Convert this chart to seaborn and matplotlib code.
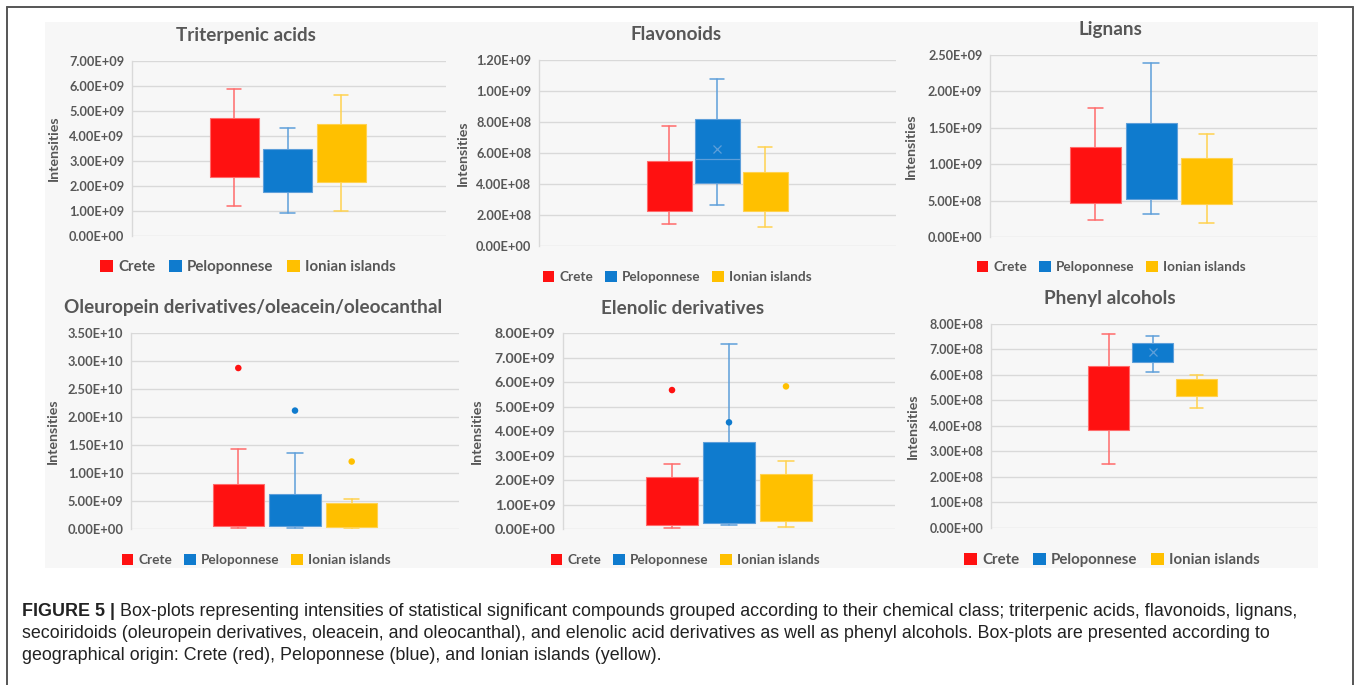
import numpy as np
import pandas as pd
import seaborn as sns
import matplotlib
matplotlib.use("Agg")
import matplotlib.pyplot as plt
from matplotlib.patches import Patch, Rectangle
from matplotlib.lines import Line2D

# ---------------------------------------------------------------- data
regions = ["Crete", "Peloponnese", "Ionian islands"]
fill_colors = ["#FF1111", "#0F7BCE", "#FFC000"]
whisker_colors = ["#FF6B6B", "#5E9FDA", "#FFD24F"]

# Triterpenic acids
triterpenic_low = [1.20e9, 0.93e9, 1.01e9]
triterpenic_q1 = [2.36e9, 1.74e9, 2.15e9]
triterpenic_med = [np.nan, np.nan, np.nan]
triterpenic_q3 = [4.71e9, 3.46e9, 4.47e9]
triterpenic_high = [5.85e9, 4.31e9, 5.63e9]
triterpenic_mean = [np.nan, np.nan, np.nan]
triterpenic_out = [[], [], []]
triterpenic_ticks = [0, 1e9, 2e9, 3e9, 4e9, 5e9, 6e9, 7e9]

# Flavonoids
flavonoid_low = [1.40e8, 2.66e8, 1.25e8]
flavonoid_q1 = [2.26e8, 4.08e8, 2.26e8]
flavonoid_med = [np.nan, 5.61e8, np.nan]
flavonoid_q3 = [5.48e8, 8.19e8, 4.80e8]
flavonoid_high = [7.74e8, 1.075e9, 6.37e8]
flavonoid_mean = [np.nan, 6.28e8, np.nan]
flavonoid_out = [[], [], []]
flavonoid_ticks = [0, 2e8, 4e8, 6e8, 8e8, 1.0e9, 1.2e9]

# Lignans
lignan_low = [2.40e8, 3.15e8, 1.90e8]
lignan_q1 = [4.70e8, 5.20e8, 4.57e8]
lignan_med = [np.nan, np.nan, np.nan]
lignan_q3 = [1.235e9, 1.572e9, 1.092e9]
lignan_high = [1.78e9, 2.395e9, 1.417e9]
lignan_mean = [np.nan, np.nan, np.nan]
lignan_out = [[], [], []]
lignan_ticks = [0, 5e8, 1.0e9, 1.5e9, 2.0e9, 2.5e9]

# Oleuropein derivatives / oleacein / oleocanthal
oleuropein_low = [0.30e9, 0.18e9, 0.10e9]
oleuropein_q1 = [0.59e9, 0.59e9, 0.46e9]
oleuropein_med = [np.nan, np.nan, np.nan]
oleuropein_q3 = [8.03e9, 6.30e9, 4.75e9]
oleuropein_high = [1.44e10, 1.355e10, 5.36e9]
oleuropein_mean = [np.nan, np.nan, np.nan]
oleuropein_out = [[2.88e10], [2.12e10], [1.21e10]]
oleuropein_ticks = [0, 5e9, 1.0e10, 1.5e10, 2.0e10, 2.5e10, 3.0e10, 3.5e10]

# Elenolic derivatives
elenolic_low = [0.05e9, 0.15e9, 0.07e9]
elenolic_q1 = [0.16e9, 0.245e9, 0.34e9]
elenolic_med = [np.nan, np.nan, np.nan]
elenolic_q3 = [2.13e9, 3.57e9, 2.26e9]
elenolic_high = [2.66e9, 7.56e9, 2.79e9]
elenolic_mean = [np.nan, np.nan, np.nan]
elenolic_out = [[5.68e9], [4.36e9], [5.83e9]]
elenolic_ticks = [0, 1e9, 2e9, 3e9, 4e9, 5e9, 6e9, 7e9, 8e9]

# Phenyl alcohols
phenyl_low = [2.50e8, 6.10e8, 4.71e8]
phenyl_q1 = [3.84e8, 6.52e8, 5.17e8]
phenyl_med = [np.nan, np.nan, np.nan]
phenyl_q3 = [6.36e8, 7.25e8, 5.83e8]
phenyl_high = [7.60e8, 7.54e8, 6.01e8]
phenyl_mean = [np.nan, 6.91e8, np.nan]
phenyl_out = [[], [], []]
phenyl_ticks = [0, 1e8, 2e8, 3e8, 4e8, 5e8, 6e8, 7e8, 8e8]

caption_head = "FIGURE 5 |"
caption_lines = [
    " Box-plots representing intensities of statistical significant compounds grouped according to their chemical class; triterpenic acids, flavonoids, lignans,",
    "secoiridoids (oleuropein derivatives, oleacein, and oleocanthal), and elenolic acid derivatives as well as phenyl alcohols. Box-plots are presented according to",
    "geographical origin: Crete (red), Peloponnese (blue), and Ionian islands (yellow).",
]

panels = [
    dict(title="Triterpenic acids", low=triterpenic_low, q1=triterpenic_q1, med=triterpenic_med,
         q3=triterpenic_q3, high=triterpenic_high, mean=triterpenic_mean, out=triterpenic_out,
         ticks=triterpenic_ticks),
    dict(title="Flavonoids", low=flavonoid_low, q1=flavonoid_q1, med=flavonoid_med,
         q3=flavonoid_q3, high=flavonoid_high, mean=flavonoid_mean, out=flavonoid_out,
         ticks=flavonoid_ticks),
    dict(title="Lignans", low=lignan_low, q1=lignan_q1, med=lignan_med,
         q3=lignan_q3, high=lignan_high, mean=lignan_mean, out=lignan_out,
         ticks=lignan_ticks),
    dict(title="Oleuropein derivatives/oleacein/oleocanthal", low=oleuropein_low, q1=oleuropein_q1,
         med=oleuropein_med, q3=oleuropein_q3, high=oleuropein_high, mean=oleuropein_mean,
         out=oleuropein_out, ticks=oleuropein_ticks),
    dict(title="Elenolic derivatives", low=elenolic_low, q1=elenolic_q1, med=elenolic_med,
         q3=elenolic_q3, high=elenolic_high, mean=elenolic_mean, out=elenolic_out,
         ticks=elenolic_ticks),
    dict(title="Phenyl alcohols", low=phenyl_low, q1=phenyl_q1, med=phenyl_med,
         q3=phenyl_q3, high=phenyl_high, mean=phenyl_mean, out=phenyl_out,
         ticks=phenyl_ticks),
]

# ---------------------------------------------------------------- layout (pixels)
W, H, DPI = 1357, 685, 100
# plot area left/right/top/bottom, centre of middle box, box spacing, box width,
# title (x, y), y-label x, legend (x, y), legend font size, tick font size
layout = [
    dict(l=132, r=446, t=60.7, b=236, c=287.5, s=53.5, bw=49, title=(246, 35), ylab=54,
         leg=(248, 267), legfs=10.8, tickfs=9.2),
    dict(l=539, r=896, t=60, b=246, c=717, s=48, bw=45, title=(676, 35), ylab=463,
         leg=(677, 277), legfs=9.8, tickfs=9.2),
    dict(l=990, r=1317, t=55, b=237.3, c=1151, s=55.7, bw=51, title=(1110, 30), ylab=911,
         leg=(1111, 267), legfs=9.8, tickfs=9.1),
    dict(l=131, r=459, t=333.3, b=529.3, c=295, s=56.7, bw=51.5, title=(253, 308), ylab=53,
         leg=(256, 560), legfs=9.8, tickfs=9.3),
    dict(l=563, r=895, t=333.3, b=529, c=729, s=57, bw=52.5, title=(683, 308), ylab=477,
         leg=(685, 560), legfs=9.8, tickfs=10.2),
    dict(l=991, r=1317, t=324, b=527.7, c=1152.5, s=44, bw=40.5, title=(1110, 298), ylab=913,
         leg=(1112, 560), legfs=10.8, tickfs=9.0),
]

TEXT_GRAY = "#575757"
GRID = "#D9D9D9"
PANEL_BG = "#F7F7F7"

sns.set_theme(style="white")
plt.rcParams["font.family"] = ["Lato", "DejaVu Sans"]
plt.rcParams["font.weight"] = "bold"

fig = plt.figure(figsize=(W / DPI, H / DPI), dpi=DPI, facecolor="white")


def fx(x):
    return x / W


def fy(y):
    return 1 - y / H


# shaded chart region and outer frame
fig.add_artist(Rectangle((fx(45), fy(568)), fx(1318) - fx(45), fy(22) - fy(568),
                         transform=fig.transFigure, facecolor=PANEL_BG, edgecolor="none", zorder=0))
frame_kw = dict(transform=fig.transFigure, color="#555555", lw=1.4, zorder=5)
fig.add_artist(Line2D([fx(7), fx(7)], [fy(7), fy(690)], **frame_kw))
fig.add_artist(Line2D([fx(7), fx(1353)], [fy(7), fy(7)], **frame_kw))
fig.add_artist(Line2D([fx(1353), fx(1353)], [fy(7), fy(690)], **frame_kw))

for p, lay in zip(panels, layout):
    ax = fig.add_axes([fx(lay["l"]), fy(lay["b"]), fx(lay["r"]) - fx(lay["l"]), fy(lay["t"]) - fy(lay["b"])])
    ax.set_facecolor("none")
    positions = np.arange(len(regions))
    width = lay["bw"] / lay["s"]

    stats = []
    for i, name in enumerate(regions):
        stats.append(dict(label=name, whislo=p["low"][i], q1=p["q1"][i], med=p["med"][i],
                          q3=p["q3"][i], whishi=p["high"][i], mean=p["mean"][i], fliers=[]))
    art = ax.bxp(stats, positions=positions, widths=width, capwidths=width * 0.3,
                 patch_artist=True, showmeans=True, showfliers=False, manage_ticks=False)
    for i in range(len(regions)):
        art["boxes"][i].set(facecolor=fill_colors[i], edgecolor=whisker_colors[i], linewidth=0.8, zorder=3)
        for ln in art["whiskers"][2 * i:2 * i + 2] + art["caps"][2 * i:2 * i + 2]:
            ln.set(color=whisker_colors[i], linewidth=1.1, zorder=2)
        art["medians"][i].set(color=whisker_colors[i], linewidth=0.9, zorder=4)
        art["means"][i].set(marker="x", markersize=6, markeredgecolor=whisker_colors[i],
                            markeredgewidth=0.9, zorder=4)

    # outlying points
    out_df = pd.DataFrame([(i, v) for i in range(len(regions)) for v in p["out"][i]],
                          columns=["pos", "value"])
    if len(out_df):
        sns.scatterplot(data=out_df, x="pos", y="value", hue="pos",
                        palette={i: c for i, c in enumerate(fill_colors)},
                        s=22, linewidth=0, legend=False, ax=ax, zorder=5)

    ax.set_xlim(1 - (lay["c"] - lay["l"]) / lay["s"], 1 + (lay["r"] - lay["c"]) / lay["s"])
    ax.set_ylim(0, p["ticks"][-1])
    ax.set_yticks(p["ticks"])
    ax.set_yticklabels(["{:.2E}".format(v) for v in p["ticks"]])
    ax.set_xticks([])
    ax.set_xlabel("")
    ax.set_ylabel("")
    ax.tick_params(axis="y", length=0, pad=5.5, labelsize=lay["tickfs"], labelcolor=TEXT_GRAY)
    ax.yaxis.grid(True, color=GRID, linewidth=1.0)
    ax.set_axisbelow(True)
    for side in ["top", "right", "bottom"]:
        ax.spines[side].set_visible(False)
    ax.spines["left"].set(color=GRID, linewidth=1.0)

    fig.text(fx(lay["title"][0]), fy(lay["title"][1]), p["title"], ha="center", va="center",
             fontsize=13.6, fontweight="bold", color=TEXT_GRAY)
    fig.text(fx(lay["ylab"]), fy((lay["t"] + lay["b"]) / 2), "Intensities", rotation=90,
             ha="center", va="center", fontsize=10.3, fontweight="bold", color=TEXT_GRAY)

    handles = [Patch(facecolor=c, edgecolor="none", label=n) for c, n in zip(fill_colors, regions)]
    leg = ax.legend(handles=handles, loc="center", bbox_to_anchor=(fx(lay["leg"][0]), fy(lay["leg"][1])),
                    bbox_transform=fig.transFigure, ncol=3, frameon=False,
                    handlelength=0.85, handleheight=0.85, handletextpad=0.35, columnspacing=0.9,
                    prop=dict(family=["Lato", "DejaVu Sans"], weight="bold", size=lay["legfs"]))
    for t in leg.get_texts():
        t.set_color(TEXT_GRAY)

# caption
cap_kw = dict(family=["Liberation Sans", "DejaVu Sans"], fontsize=12.9, color="#222222", va="center")
head = fig.text(fx(22), fy(612), caption_head, fontweight="bold", **cap_kw)
renderer = fig.canvas.get_renderer()
bb = head.get_window_extent(renderer=renderer)
fig.text(bb.x1 / W, fy(612), caption_lines[0], fontweight="normal", **cap_kw)
fig.text(fx(22), fy(633.5), caption_lines[1], fontweight="normal", **cap_kw)
fig.text(fx(22), fy(655), caption_lines[2], fontweight="normal", **cap_kw)

fig.savefig("out.png", dpi=DPI, facecolor="white")
